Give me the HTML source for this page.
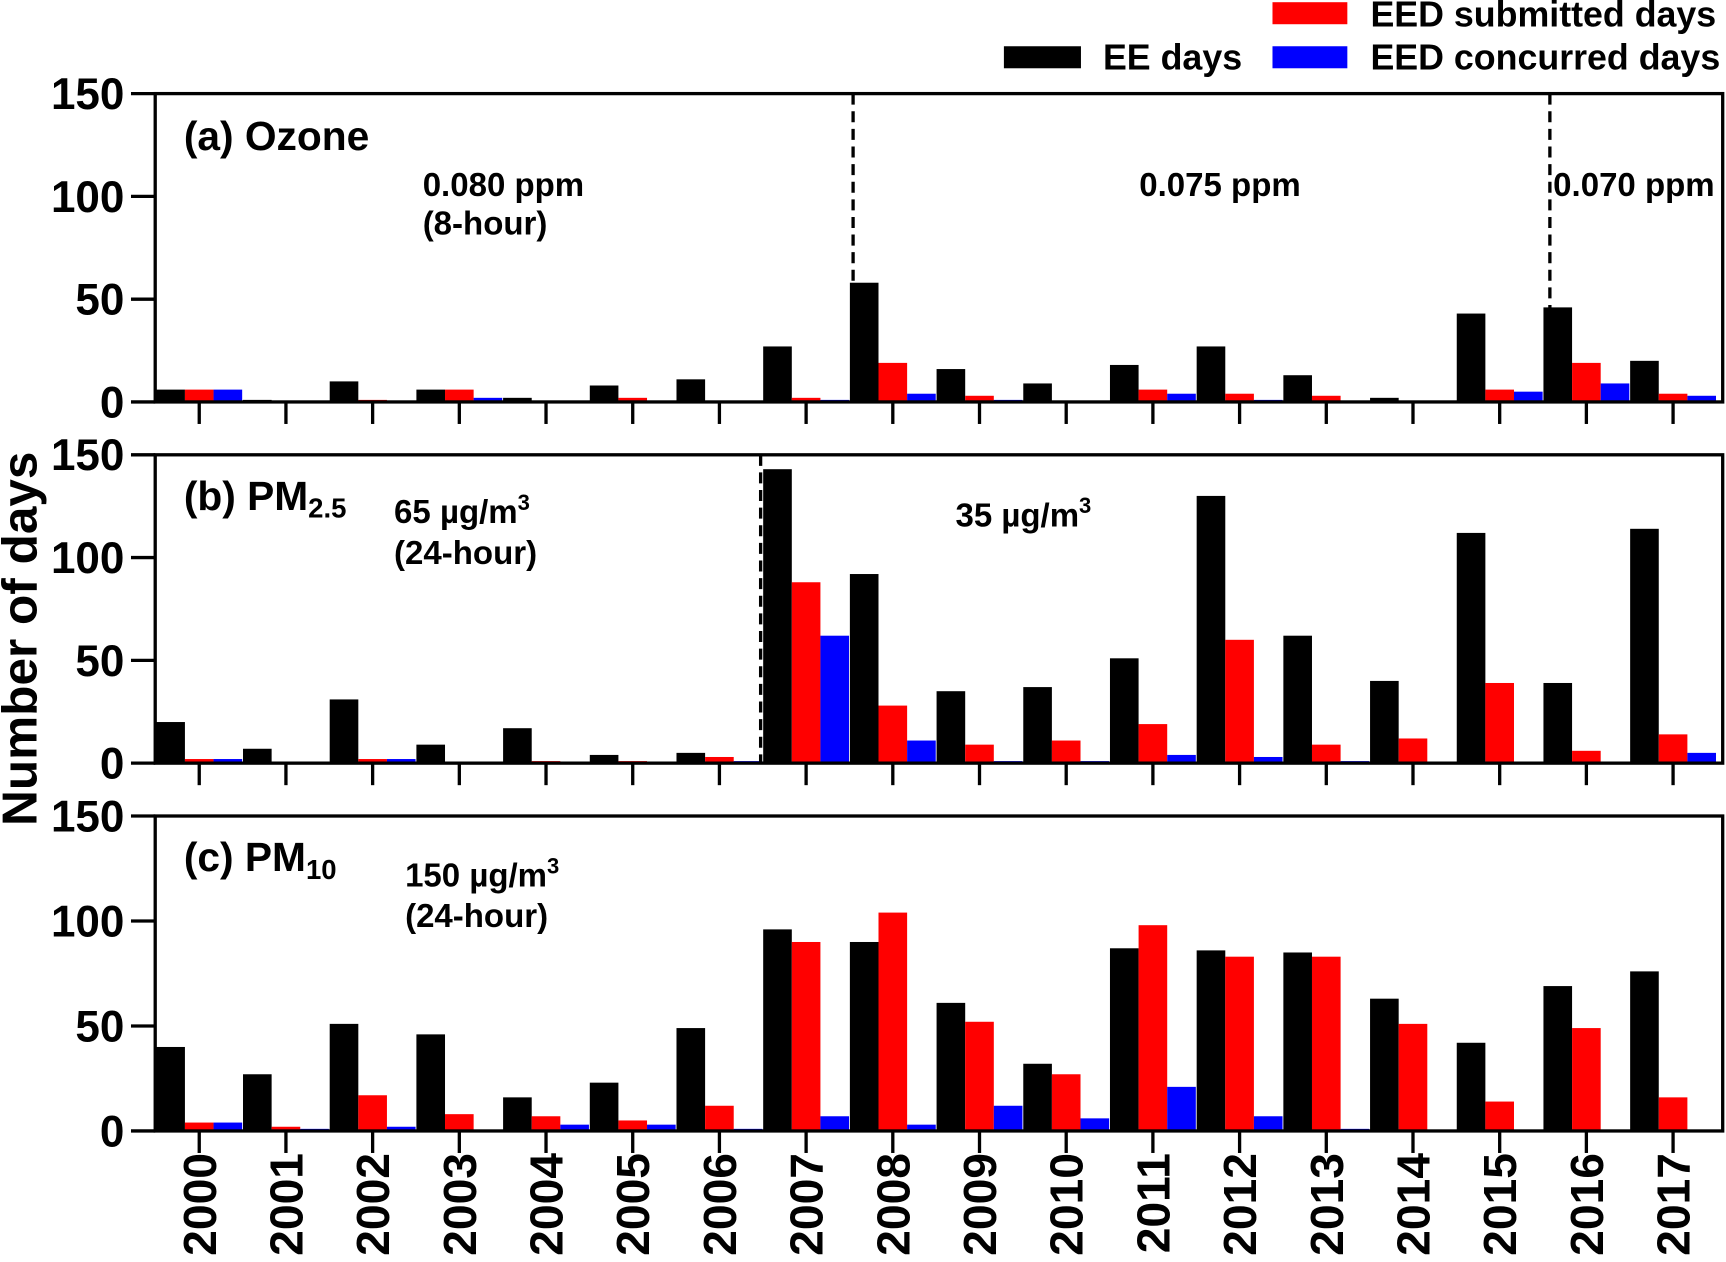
<!DOCTYPE html>
<html><head><meta charset="utf-8"><style>
html,body{margin:0;padding:0;background:#fff;}
svg{display:block;}
text{font-family:"Liberation Sans",Arial,sans-serif;font-weight:bold;fill:#000;}
</style></head><body>
<svg id="chart" width="1726" height="1262" viewBox="0 0 1568 1146" preserveAspectRatio="none" xmlns="http://www.w3.org/2000/svg">
<g>
<rect x="1156" y="2" width="68" height="20" fill="#ff0000"/>
<text x="1245" y="24" font-size="32.5">EED submitted days</text>
<rect x="912" y="42" width="70" height="20" fill="#000"/>
<text x="1002" y="63" font-size="32.5">EE days</text>
<rect x="1156" y="42" width="68" height="20" fill="#0000ff"/>
<text x="1245" y="63" font-size="32.5">EED concurred days</text>
</g>
<text transform="translate(33,580) rotate(-90)" text-anchor="middle" font-size="45">Number of days</text>
<g id="plots"></g>
</svg>
<script>
const years = [2000,2001,2002,2003,2004,2005,2006,2007,2008,2009,2010,2011,2012,2013,2014,2015,2016,2017];
const ozoneEE = [6,1,10,6,2,8,11,27,58,16,9,18,27,13,2,43,46,20];
const ozoneSub = [6,0,1,6,0,2,0,2,19,3,0,6,4,3,0,6,19,4];
const ozoneCon = [6,0,0,2,0,0,0,1,4,1,0,4,1,0,0,5,9,3];
const pm25EE = [20,7,31,9,17,4,5,143,92,35,37,51,130,62,40,112,39,114];
const pm25Sub = [2,0,2,0,1,1,3,88,28,9,11,19,60,9,12,39,6,14];
const pm25Con = [2,0,2,0,0,0,1,62,11,1,1,4,3,1,0,0,0,5];
const pm10EE = [40,27,51,46,16,23,49,96,90,61,32,87,86,85,63,42,69,76];
const pm10Sub = [4,2,17,8,7,5,12,90,104,52,27,98,83,83,51,14,49,16];
const pm10Con = [4,1,2,0,3,3,1,7,3,12,6,21,7,1,0,0,0,0];
const yTicks = [0,50,100,150];

const NS="http://www.w3.org/2000/svg";
const root=document.getElementById('plots');
function mk(tag,attrs,parent){const e=document.createElementNS(NS,tag);for(const k in attrs)e.setAttribute(k,attrs[k]);(parent||root).appendChild(e);return e;}
const X0=141, X1=1565;
function xTick(i){return 181+i*78.76;}
const panels=[
 {key:'ozone',top:85,bottom:365,ee:ozoneEE,sub:ozoneSub,con:ozoneCon,dash:[775,1408]},
 {key:'pm25',top:413,bottom:693,ee:pm25EE,sub:pm25Sub,con:pm25Con,dash:[691]},
 {key:'pm10',top:741,bottom:1027,ee:pm10EE,sub:pm10Sub,con:pm10Con,dash:[]}
];
panels.forEach(p=>{
 const g=mk('g',{});
 
 
 const y=v=>p.bottom-(v/150)*(p.bottom-p.top);
 const series=[[p.ee,'#000',-26,'ee'],[p.sub,'#ff0000',0,'submitted'],[p.con,'#0000ff',26,'concurred']];
 series.forEach(([arr,col,off,nm])=>{
  arr.forEach((v,i)=>{
   const cx=xTick(i)+off;
   const r=mk('rect',{x:cx-13,y:y(v),width:26,height:Math.max(0,p.bottom-y(v)),fill:col},g);
   
   
  });
 });
 const box=mk('rect',{x:X0,y:p.top,width:X1-X0,height:p.bottom-p.top,fill:'none',stroke:'#000','stroke-width':3},g);
 
 
 yTicks.forEach(t=>{
  mk('line',{x1:119,x2:X0,y1:y(t),y2:y(t),stroke:'#000','stroke-width':3},g);
  const tx=mk('text',{x:113,y:y(t)+14,'text-anchor':'end','font-size':40},g);
  tx.textContent=t;
  
  
 });
 years.forEach((yr,i)=>{
  mk('line',{x1:xTick(i),x2:xTick(i),y1:p.bottom,y2:p.bottom+20,stroke:'#000','stroke-width':3},g);
 });
 p.dash.forEach(dx=>{
  const l=mk('line',{x1:dx,x2:dx,y1:p.top,y2:p.bottom,stroke:'#000','stroke-width':3,'stroke-dasharray':'10,6'},g);
  
  
 });
});
years.forEach((yr,i)=>{
 const t=mk('text',{transform:'translate('+(xTick(i)+15)+',1047) rotate(-90)','text-anchor':'end','font-size':42});
 t.textContent=yr;
 
 
});
function label(x,y,size,html,name){
 const t=mk('text',{x:x,y:y,'font-size':size});
 t.innerHTML=html;
 
 
}
label(167,136,37,'(a) Ozone','panel-a-title');
label(384,178,30,'0.080 ppm','ozone-std-1');
label(384,213,30,'(8-hour)','ozone-std-1-period');
label(1035,178,30,'0.075 ppm','ozone-std-2');
label(1411,178,30,'0.070 ppm','ozone-std-3');
label(167,463,37,'(b) PM<tspan font-size="25" dy="7">2.5</tspan>','panel-b-title');
label(358,475,30,'65 µg/m<tspan font-size="20" dy="-12">3</tspan>','pm25-std-1');
label(358,512,30,'(24-hour)','pm25-std-1-period');
label(868,478,30,'35 µg/m<tspan font-size="20" dy="-12">3</tspan>','pm25-std-2');
label(167,791,37,'(c) PM<tspan font-size="25" dy="7">10</tspan>','panel-c-title');
label(368,805,30,'150 µg/m<tspan font-size="20" dy="-12">3</tspan>','pm10-std');
label(368,842,30,'(24-hour)','pm10-std-period');
</script>
</body></html>
